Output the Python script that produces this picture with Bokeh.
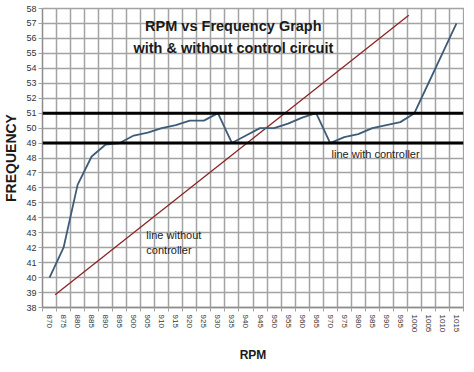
from bokeh.plotting import figure
from bokeh.models import FixedTicker, Range1d, Label, Span
from bokeh.embed import file_html
from bokeh.resources import INLINE

# ---- data ----
rpm = [870, 875, 880, 885, 890, 895, 900, 905, 910, 915,
       920, 925, 930, 935, 940, 945, 950, 955, 960, 965,
       970, 975, 980, 985, 990, 995, 1000, 1005, 1010, 1015]
freq_with_controller = [40, 42, 46.2, 48.1, 48.9, 49, 49.5, 49.7, 50.0, 50.2,
                        50.5, 50.5, 51, 49, 49.5, 50, 50, 50.3, 50.7, 51,
                        49, 49.4, 49.6, 50.0, 50.2, 50.4, 51, 53, 55, 57]
# hand-drawn straight line "without controller" (two end points)
rpm_without = [872, 998]
freq_without = [38.85, 57.55]
# control band limits
upper_limit = 51
lower_limit = 49
y_ticks = [38, 39, 40, 41, 42, 43, 44, 45, 46, 47, 48, 49, 50,
           51, 52, 53, 54, 55, 56, 57, 58]
x_tick_labels = [str(v) for v in rpm]

# category boundaries (half a step either side of each category)
step = rpm[1] - rpm[0]
boundaries = [v - step / 2 for v in rpm] + [rpm[-1] + step / 2]

FONT = "Liberation Sans"
GRID = "#a3a3a3"

p = figure(width=464, height=365, output_backend="svg", toolbar_location=None,
           x_range=Range1d(boundaries[0], boundaries[-1]),
           y_range=Range1d(y_ticks[0], y_ticks[-1]),
           min_border_left=38, min_border_right=1, min_border_top=8,
           min_border_bottom=54)
p.background_fill_color = "white"
p.border_fill_color = "white"
p.outline_line_color = GRID
p.outline_line_width = 1.3

# grid
p.xgrid.ticker = FixedTicker(ticks=boundaries)
p.ygrid.ticker = FixedTicker(ticks=y_ticks)
for g in (p.xgrid, p.ygrid):
    g.grid_line_color = GRID
    g.grid_line_width = 1.5

# x axis
xa = p.xaxis[0]
xa.ticker = FixedTicker(ticks=rpm, minor_ticks=boundaries)
xa.major_label_overrides = {v: s for v, s in zip(rpm, x_tick_labels)}
xa.major_label_orientation = "vertical"
xa.major_tick_out = 0
xa.major_tick_in = 0
xa.minor_tick_out = 4
xa.minor_tick_in = 0
xa.minor_tick_line_color = GRID
xa.axis_line_color = "#8c8c8c"
xa.axis_line_width = 1.3
xa.major_label_text_font = FONT
xa.major_label_text_font_size = "8px"
xa.major_label_text_color = "#333333"
xa.major_label_standoff = 3
xa.axis_label = "RPM"
xa.axis_label_text_font = FONT
xa.axis_label_text_font_style = "bold"
xa.axis_label_text_font_size = "12px"
xa.axis_label_text_color = "#1a1a1a"
xa.axis_label_standoff = 13

# y axis
ya = p.yaxis[0]
ya.ticker = FixedTicker(ticks=y_ticks)
ya.minor_tick_line_color = None
ya.major_tick_out = 4
ya.major_tick_in = 0
ya.major_tick_line_color = GRID
ya.axis_line_color = "#8c8c8c"
ya.axis_line_width = 1.3
ya.major_label_text_font = FONT
ya.major_label_text_font_size = "9px"
ya.major_label_text_color = "#333333"
ya.major_label_standoff = 2
ya.axis_label = "FREQUENCY"
ya.axis_label_text_font = FONT
ya.axis_label_text_font_style = "bold"
ya.axis_label_text_font_size = "14px"
ya.axis_label_text_color = "#1a1a1a"
ya.axis_label_standoff = 4

# control limits
for lim in (upper_limit, lower_limit):
    p.add_layout(Span(location=lim, dimension="width", line_color="black",
                      line_width=3))

# series
p.line(rpm_without, freq_without, line_color="#8b2323", line_width=1.3)
p.line(rpm, freq_with_controller, line_color="#3e5c78", line_width=1.8)

# texts
title_x = 935.5
p.add_layout(Label(x=title_x, y=56.85, text="RPM vs Frequency Graph",
                   text_align="center", text_baseline="middle",
                   text_font=FONT, text_font_style="bold",
                   text_font_size="14.5px", text_color="#1a1a1a"))
p.add_layout(Label(x=title_x, y=55.35, text="with & without control circuit",
                   text_align="center", text_baseline="middle",
                   text_font=FONT, text_font_style="bold",
                   text_font_size="14.5px", text_color="#1a1a1a"))
p.add_layout(Label(x=970.5, y=48.3, text="line with controller",
                   text_align="left", text_baseline="middle",
                   text_font=FONT, text_font_size="11px", text_color="#222222"))
p.add_layout(Label(x=904.5, y=42.87, text="line without",
                   text_align="left", text_baseline="middle",
                   text_font=FONT, text_font_size="11px", text_color="#222222"))
p.add_layout(Label(x=904.5, y=41.87, text="controller",
                   text_align="left", text_baseline="middle",
                   text_font=FONT, text_font_size="11px", text_color="#222222"))

open("out.html", "w").write(file_html(p, INLINE))
